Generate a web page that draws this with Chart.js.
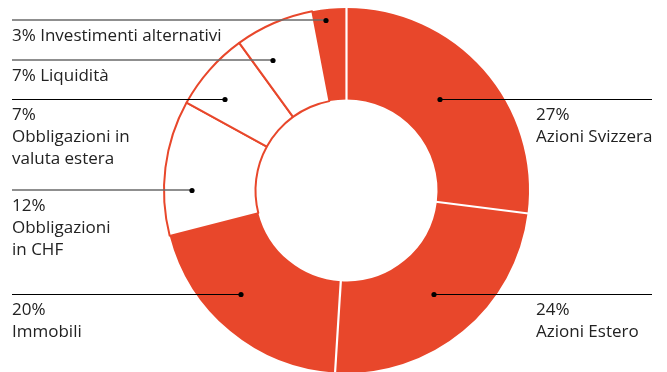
<!DOCTYPE html>
<html>
<head>
<meta charset="utf-8">
<script src="https://cdn.jsdelivr.net/npm/chart.js@4.4.1/dist/chart.umd.min.js"></script>
<style>
  html, body { margin: 0; padding: 0; background: #fff; overflow: hidden; width: 667px; height: 372px; }
  #wrap { position: absolute; left: 0; top: 0; width: 667px; height: 382px; }
  #c { display: block; }
  .lbl { position: absolute; font-family: 'Open Sans', sans-serif; font-size: 17px; line-height: 22px;
         color: #222; white-space: nowrap; }
</style>
</head>
<body>
<div id="wrap"><canvas id="c" width="667" height="382"></canvas></div>
<script>
// Asset allocation, clockwise from 12 o'clock
const categories = ['Azioni Svizzera', 'Azioni Estero', 'Immobili', 'Obbligazioni in CHF',
                    'Obbligazioni in valuta estera', 'Liquidità', 'Investimenti alternativi'];
const shares = [27, 24, 20, 12, 7, 7, 3];
// how each category name wraps in its label
const nameLines = [['Azioni Svizzera'], ['Azioni Estero'], ['Immobili'], ['Obbligazioni', 'in CHF'],
                   ['Obbligazioni in', 'valuta estera'], ['Liquidità'], ['Investimenti alternativi']];
// equities, real estate and alternatives are filled; bonds and cash are outlined
const filled = [true, true, true, false, false, false, true];

const RED = '#E8472B';

// callout layout: side, leader y, dot x, percent on same line as name, leader style
const callouts = [
  { side: 'right', y: 99,  dotX: 440, inline: false, soft: false },
  { side: 'right', y: 294, dotX: 434, inline: false, soft: false },
  { side: 'left',  y: 294, dotX: 241, inline: false, soft: false },
  { side: 'left',  y: 190, dotX: 192, inline: false, soft: true },
  { side: 'left',  y: 99,  dotX: 225, inline: false, soft: false },
  { side: 'left',  y: 60,  dotX: 273, inline: true,  soft: true },
  { side: 'left',  y: 20,  dotX: 326, inline: true,  soft: true }
];
const LEFT_X = 12, RIGHT_TEXT_X = 536, RIGHT_END = 652;

// white gaps between neighbouring filled slices
const separators = {
  id: 'separators',
  afterDatasetsDraw(chart) {
    const arcs = chart.getDatasetMeta(0).data;
    const ctx = chart.ctx;
    ctx.save();
    ctx.strokeStyle = '#fff';
    ctx.lineWidth = 2.2;
    arcs.forEach((arc, i) => {
      const prev = (i - 1 + arcs.length) % arcs.length;
      if (!(filled[i] && filled[prev])) return;
      const p = arc.getProps(['x', 'y', 'startAngle', 'innerRadius', 'outerRadius'], true);
      const c = Math.cos(p.startAngle), s = Math.sin(p.startAngle);
      ctx.beginPath();
      ctx.moveTo(p.x + c * (p.innerRadius - 1), p.y + s * (p.innerRadius - 1));
      ctx.lineTo(p.x + c * (p.outerRadius + 1), p.y + s * (p.outerRadius + 1));
      ctx.stroke();
    });
    ctx.restore();
  }
};

// leader lines with dots
const leaders = {
  id: 'leaders',
  afterDraw(chart) {
    const ctx = chart.ctx;
    ctx.save();
    callouts.forEach(co => {
      const x0 = co.side === 'left' ? LEFT_X : co.dotX;
      const x1 = co.side === 'left' ? co.dotX : RIGHT_END;
      ctx.beginPath();
      if (co.soft) {
        ctx.strokeStyle = '#6a6a6a';
        ctx.lineWidth = 1.6;
        ctx.moveTo(x0, co.y);
        ctx.lineTo(x1, co.y);
      } else {
        ctx.strokeStyle = '#000';
        ctx.lineWidth = 1;
        ctx.moveTo(x0, co.y + 0.5);
        ctx.lineTo(x1, co.y + 0.5);
      }
      ctx.stroke();
      ctx.beginPath();
      ctx.fillStyle = '#000';
      ctx.arc(co.dotX, co.y + 0.5, 2.6, 0, Math.PI * 2);
      ctx.fill();
    });
    ctx.restore();
  }
};

new Chart(document.getElementById('c'), {
  type: 'doughnut',
  data: {
    labels: categories,
    datasets: [{
      data: shares,
      backgroundColor: filled.map(f => f ? RED : '#fff'),
      borderColor: RED,
      borderWidth: filled.map(f => f ? 0 : 2),
      hoverOffset: 0
    }]
  },
  options: {
    responsive: false,
    animation: false,
    cutout: 91,
    rotation: 0,
    layout: { padding: { left: 163, right: 137, top: 7, bottom: 8 } },
    plugins: { legend: { display: false }, tooltip: { enabled: false } },
    events: []
  },
  plugins: [separators, leaders]
});

// text labels
const wrap = document.getElementById('wrap');
callouts.forEach((co, i) => {
  const pct = shares[i] + '%';
  const lines = co.inline ? [pct + ' ' + nameLines[i].join(' ')] : [pct, ...nameLines[i]];
  const d = document.createElement('div');
  d.className = 'lbl';
  d.style.left = (co.side === 'left' ? LEFT_X : RIGHT_TEXT_X) + 'px';
  d.style.top = (co.y + 4) + 'px';
  d.innerHTML = lines.map(t => t.replace(/&/g, '&amp;')).join('<br>');
  wrap.appendChild(d);
});
</script>
</body>
</html>
